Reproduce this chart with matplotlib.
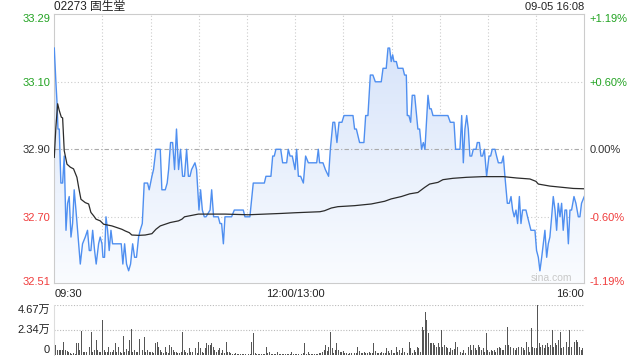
import numpy as np
import matplotlib.pyplot as plt
from matplotlib.colors import LinearSegmentedColormap

plt.rcParams['font.family'] = ['Liberation Sans', 'Noto Sans CJK SC']

# -----------------------------------------------------------------
# DATA (minutes counted from 09:30, lunch break removed: 0..330)
# -----------------------------------------------------------------
title = '02273 固生堂'
stamp = '09-05 16:08'
prev_close = 32.90

price_ticks = [33.29, 33.10, 32.90, 32.70, 32.51]
pct_labels = ['+1.19%', '+0.60%', '0.00%', '-0.60%', '-1.19%']
time_ticks = [0, 150, 330]
time_labels = ['09:30', '12:00/13:00', '16:00']
vol_ticks = [0, 23350, 46700]
vol_labels = ['0', '2.34万', '4.67万']

price_min = [
    0, 1.0, 1.7, 2.3, 3.1, 4.1, 5.2, 6.2, 7.3, 8.3,
    9.3, 10.4, 11.4, 12.4, 13.5, 14.5, 16.2, 17.6, 19.3, 20.7,
    21.8, 22.8, 23.9, 25.1, 26.1, 27.6, 28.6, 29.7, 30.3, 31.3,
    32.2, 33.2, 34.2, 35.3, 36.3, 41.7, 42.7, 43.8, 45.0, 46.3,
    47.5, 48.8, 50.0, 51.2, 52.5, 53.5, 54.8, 56.0, 58.1, 59.1,
    60.8, 61.8, 63.3, 66.0, 67.0, 69.1, 70.3, 71.2, 72.4, 73.7,
    74.9, 76.1, 77.4, 78.6, 79.9, 81.1, 82.4,
    83.5, 84.5, 85.5, 87.6, 88.6, 90.1, 91.1, 92.2, 93.4, 94.5,
    97.0, 98.0, 99.2, 102.1, 103.2, 104.2, 105.3, 106.3, 110.4, 112.1,
    117.7, 118.7, 121.8, 123.9, 130.8, 131.8, 134.9, 136.0, 137.0, 138.0,
    141.0, 142.2, 144.7, 145.7, 146.8, 148.2, 149.9, 150.9, 152.0, 153.4,
    155.1, 156.5, 158.2, 163.4, 164.4,
    165.2, 167.3, 168.8, 170.8, 171.9, 173.5, 174.6, 176.0, 177.3, 179.1,
    180.4, 186.0, 187.0, 188.1, 190.1, 192.8, 193.9, 195.3, 196.8, 198.4,
    199.9, 203.6, 204.7, 206.7, 207.8, 208.8, 209.8, 210.7, 211.5, 213.0,
    214.0, 217.1, 218.1, 219.2, 219.8, 220.8, 221.9, 222.9, 224.4, 226.4,
    227.5, 228.7, 229.8, 230.8, 232.7, 233.7, 234.7, 235.8, 245.1, 246.6,
    248.9, 249.9, 252.6, 253.7, 254.7, 255.7, 256.8, 257.8, 258.8, 259.9,
    260.9, 262.6, 263.4, 264.7, 265.7, 266.7, 267.8, 269.2, 270.7, 271.7,
    272.7, 274.4, 275.4, 276.5, 278.6, 279.6, 280.6, 282.1, 283.3, 284.4,
    285.4, 286.4, 287.5, 288.5, 289.6, 290.6, 291.6, 293.7, 294.7, 296.8,
    299.3, 300.3, 301.4, 302.4, 303.5, 304.5, 305.5, 306.6, 307.6, 308.6,
    309.7, 310.7, 311.8, 312.8, 313.8, 314.9, 315.9, 316.9, 318.0, 319.0,
    320.1, 321.1, 322.1, 323.6, 324.8, 326.3, 327.3, 328.3, 330.0,
]
price_val = [
    33.20, 33.10, 33.04, 32.96, 32.96, 32.80, 32.80, 32.88, 32.66, 32.74,
    32.76, 32.64, 32.68, 32.78, 32.72, 32.66, 32.56, 32.62, 32.64, 32.66,
    32.60, 32.60, 32.66, 32.60, 32.56, 32.62, 32.64, 32.62, 32.58, 32.58,
    32.70, 32.66, 32.60, 32.66, 32.62, 32.62, 32.56, 32.62, 32.56, 32.54,
    32.56, 32.62, 32.58, 32.58, 32.64, 32.66, 32.68, 32.80, 32.80, 32.78,
    32.82, 32.84, 32.90, 32.90, 32.78, 32.78, 32.80, 32.84, 32.92, 32.92,
    32.84, 32.96, 32.84, 32.90, 32.82, 32.82, 32.90,
    32.82, 32.82, 32.84, 32.86, 32.84, 32.72, 32.78, 32.72, 32.70, 32.70,
    32.72, 32.78, 32.70, 32.70, 32.68, 32.68, 32.62, 32.70, 32.70, 32.72,
    32.72, 32.70, 32.70, 32.80, 32.80, 32.82, 32.82, 32.88, 32.88, 32.90,
    32.90, 32.86, 32.86, 32.90, 32.88, 32.88, 32.84, 32.90, 32.82, 32.82,
    32.80, 32.88, 32.86, 32.86, 32.90,
    32.86, 32.86, 32.84, 32.82, 32.90, 32.98, 32.98, 32.92, 32.98, 32.98,
    33.00, 33.00, 32.96, 32.96, 32.92, 32.92, 33.00, 33.00, 33.12, 33.12,
    33.10, 33.10, 33.14, 33.14, 33.20, 33.20, 33.16, 33.18, 33.16, 33.16,
    33.14, 33.14, 33.12, 33.12, 33.00, 33.00, 32.98, 33.06, 33.06, 32.96,
    32.96, 32.90, 32.92, 32.90, 33.06, 33.02, 33.02, 33.00, 33.00, 32.98,
    32.98, 32.90, 32.90, 33.00, 32.86, 32.96, 33.00, 32.96, 32.88, 32.88,
    32.90, 32.90, 32.92, 32.92, 32.88, 32.88, 32.90, 32.82, 32.88, 32.88,
    32.90, 32.90, 32.88, 32.86, 32.86, 32.88, 32.82, 32.74, 32.74, 32.76,
    32.72, 32.70, 32.72, 32.68, 32.76, 32.68, 32.72, 32.72, 32.70, 32.66,
    32.66, 32.60, 32.58, 32.54, 32.58, 32.62, 32.66, 32.58, 32.62, 32.64,
    32.70, 32.76, 32.72, 32.66, 32.74, 32.70, 32.74, 32.66, 32.72, 32.72,
    32.62, 32.72, 32.72, 32.76, 32.74, 32.70, 32.70, 32.74, 32.76,
]

# average price line
avg_min = [
    0, 1.0, 2.1, 3.1, 4.4, 5.2, 6.2, 7.9, 10.0, 12.0,
    14.1, 15.2, 16.6, 19.3, 21.4, 22.8, 24.5, 26.0, 28.6, 30.7,
    32.8, 35.9, 39.0, 42.1, 44.2, 46.7, 48.3, 52.5, 56.6, 60.8,
    63.3, 66.0, 69.1, 72.2, 77.4, 79.5, 81.1, 89.7, 106.3, 120.8,
    131.2, 141.6, 149.9, 165.4, 168.3, 172.5, 176.6, 187.0, 197.4, 205.7,
    209.8, 216.1, 221.3, 226.4, 230.6, 233.7, 238.9, 242.0, 248.2, 256.8,
    267.1, 279.6, 287.9, 296.2, 299.9, 301.4, 308.6, 316.9, 323.2, 330.0,
]
avg_val = [
    32.876, 32.965, 33.035, 33.015, 32.995, 32.993, 32.896, 32.856, 32.847, 32.842,
    32.817, 32.787, 32.752, 32.742, 32.738, 32.713, 32.703, 32.693, 32.688, 32.678,
    32.676, 32.673, 32.668, 32.663, 32.658, 32.653, 32.646, 32.645, 32.646, 32.650,
    32.663, 32.673, 32.678, 32.683, 32.688, 32.693, 32.700, 32.708, 32.708, 32.706,
    32.708, 32.710, 32.712, 32.715, 32.718, 32.726, 32.730, 32.733, 32.738, 32.746,
    32.753, 32.760, 32.768, 32.772, 32.787, 32.797, 32.802, 32.810, 32.814, 32.817,
    32.819, 32.819, 32.815, 32.812, 32.805, 32.797, 32.791, 32.787, 32.784, 32.783,
]

# volume per minute, in hundreds of shares (minute 0..330)
volume_100 = [
    62, 93, 47, 47, 47, 47, 124, 47, 40, 31,
    22, 10, 14, 12, 109, 109, 47, 227, 31, 31,
    31, 31, 78, 218, 31, 47, 140, 47, 31, 31,
    327, 47, 31, 31, 78, 31, 31, 47, 109, 31,
    78, 31, 22, 177, 31, 53, 40, 140, 240, 31,
    47, 31, 31, 146, 31, 47, 171, 31, 47, 31,
    31, 31, 22, 115, 124, 78, 47, 31, 16, 78,
    31, 16, 93, 78, 47, 31, 31, 16, 16, 31,
    218, 47, 31, 16, 62, 31, 31, 47, 62, 16,
    124, 62, 31, 16, 62, 109, 93, 93, 109, 78,
    47, 31, 47, 62, 16, 47, 22, 124, 31, 31,
    16, 12, 10, 14, 8,
    10, 8, 12, 10, 6, 8,
    10, 8, 124, 208, 16, 10, 8, 12, 6, 10,
    8, 78, 16, 31, 10, 8, 12, 6, 31, 10,
    8, 12, 10, 6, 8, 12, 10, 31, 8, 10,
    12, 6, 10, 8, 16, 109, 10, 31, 8, 12,
    10, 6, 12, 8, 16,
    16, 31, 47, 93, 40, 78, 218, 62, 16, 47,
    109, 47, 31, 31, 40, 22, 16, 12, 22, 16,
    12, 16, 22, 78, 40, 16, 22, 31, 16, 22,
    31, 16, 22, 109, 40, 16, 22, 16, 31, 16,
    22, 62, 37, 16, 47, 22, 16, 78, 31, 47,
    22, 62, 31, 62, 22, 124, 62, 22, 47, 31,
    78, 62, 31, 264, 233, 404, 327, 202, 109, 109,
    109, 93, 78, 109, 78, 233, 78, 93, 78, 62,
    31, 62, 47, 53, 124, 78, 22, 31, 16, 47,
    22, 62, 78, 93, 47, 93, 62, 47, 93, 78,
    47, 62, 31, 202, 47, 31, 47, 40, 47, 31,
    62, 78, 62, 47, 47, 93, 264, 93, 78, 31,
    62, 47, 62, 78, 202, 78, 62, 47, 124, 78,
    31, 249, 78, 62, 62, 467, 109, 78, 93, 62,
    93, 109, 78, 93, 233, 78, 109, 93, 140, 218,
    62, 78, 47, 124, 78, 233, 78, 93, 124, 140,
    124, 78, 47, 62, 31,
]

GREEN = '#22a322'
RED = '#f03c3c'
DARK = '#333333'
tick_colors = [GREEN, GREEN, DARK, RED, RED]

# -----------------------------------------------------------------
# PRICE PANEL
# -----------------------------------------------------------------
fig = plt.figure(figsize=(6.4, 3.6), dpi=100)
ax = fig.add_axes([0.0848, 0.2131, 0.8281, 0.7472])
y_lo, y_hi = 32.503, 33.300

# gradient fill under the price line
cmap = LinearSegmentedColormap.from_list('fill', ['#fafcff', '#d3e1f9'])
grad = np.linspace(0, 1, 256).reshape(-1, 1)
im = ax.imshow(grad, cmap=cmap, extent=[0, 330, y_lo, y_hi], origin='lower',
               aspect='auto', zorder=1)
poly = ax.fill_between(price_min, price_val, y_lo, color='none', lw=0)
im.set_clip_path(poly.get_paths()[0], transform=ax.transData)

for t in range(30, 330, 30):
    ax.axvline(t, color='#cccccc', lw=0.8, ls=(0, (1, 2)), zorder=0)
for y in [33.10, 32.70]:
    ax.axhline(y, color='#cccccc', lw=0.8, ls=(0, (1, 2)), zorder=0)
ax.axhline(prev_close, color='#aaaaaa', lw=0.8, ls=(0, (4, 2, 1, 2)), zorder=2)

ax.plot(price_min, price_val, color='#4f8ff0', lw=1.0, zorder=3)
ax.plot(avg_min, avg_val, color='#2b2b2b', lw=0.9, zorder=4)

ax.set_xlim(0, 330)
ax.set_ylim(y_lo, y_hi)
for s in ax.spines.values():
    s.set_color('#cccccc')
    s.set_linewidth(0.8)

ax.set_yticks(price_ticks)
ax.set_yticklabels(['%.2f' % v for v in price_ticks])
ax.tick_params(axis='y', length=0, pad=3, labelsize=8)
for lbl, c in zip(ax.get_yticklabels(), tick_colors):
    lbl.set_color(c)

ax.set_xticks(time_ticks)
ax.set_xticklabels(time_labels)
ax.tick_params(axis='x', length=0, pad=4, labelsize=8, labelcolor='#222222')
for lbl, ha in zip(ax.get_xticklabels(), ['left', 'center', 'right']):
    lbl.set_ha(ha)

ax_r = ax.twinx()
ax_r.set_ylim(y_lo, y_hi)
ax_r.set_yticks(price_ticks)
ax_r.set_yticklabels(pct_labels)
ax_r.tick_params(axis='y', length=0, pad=4, labelsize=8)
for lbl, c in zip(ax_r.get_yticklabels(), tick_colors):
    lbl.set_color(c)
for s in ax_r.spines.values():
    s.set_visible(False)

ax.text(0.9385, 0.018, 'sina.com', transform=ax.transAxes, ha='center',
        va='center', color='#c8c8c8', fontsize=7.5, zorder=5)

fig.text(54.3 / 640, 1 - 7.3 / 360, title, ha='left', va='center',
         fontsize=8.5, color='#222222')
fig.text(584.3 / 640, 1 - 7.3 / 360, stamp, ha='right', va='center',
         fontsize=8, color='#222222')

# -----------------------------------------------------------------
# VOLUME PANEL
# -----------------------------------------------------------------
axv = fig.add_axes([0.0848, 0.0139, 0.8281, 0.1389])
minutes = np.arange(len(volume_100))
axv.bar(minutes, np.array(volume_100) * 100, width=0.6, color='#555555', zorder=2)
for y in vol_ticks[1:]:
    axv.axhline(y, color='#bbbbbb', lw=0.8, ls=(0, (1, 1.5)), zorder=1)
axv.set_xlim(0, 330)
axv.set_ylim(0, 46700)
axv.set_xticks([])
axv.set_yticks(vol_ticks)
axv.set_yticklabels(vol_labels)
axv.tick_params(axis='y', length=0, pad=3, labelsize=8, labelcolor='#222222')
for lbl, va in zip(axv.get_yticklabels(), ['bottom', 'center', 'top']):
    lbl.set_va(va)
for side in ['top', 'bottom', 'right']:
    axv.spines[side].set_visible(False)
axv.spines['left'].set_color('#dddddd')
axv.spines['left'].set_linewidth(0.8)

fig.savefig('out.png', dpi=100)
